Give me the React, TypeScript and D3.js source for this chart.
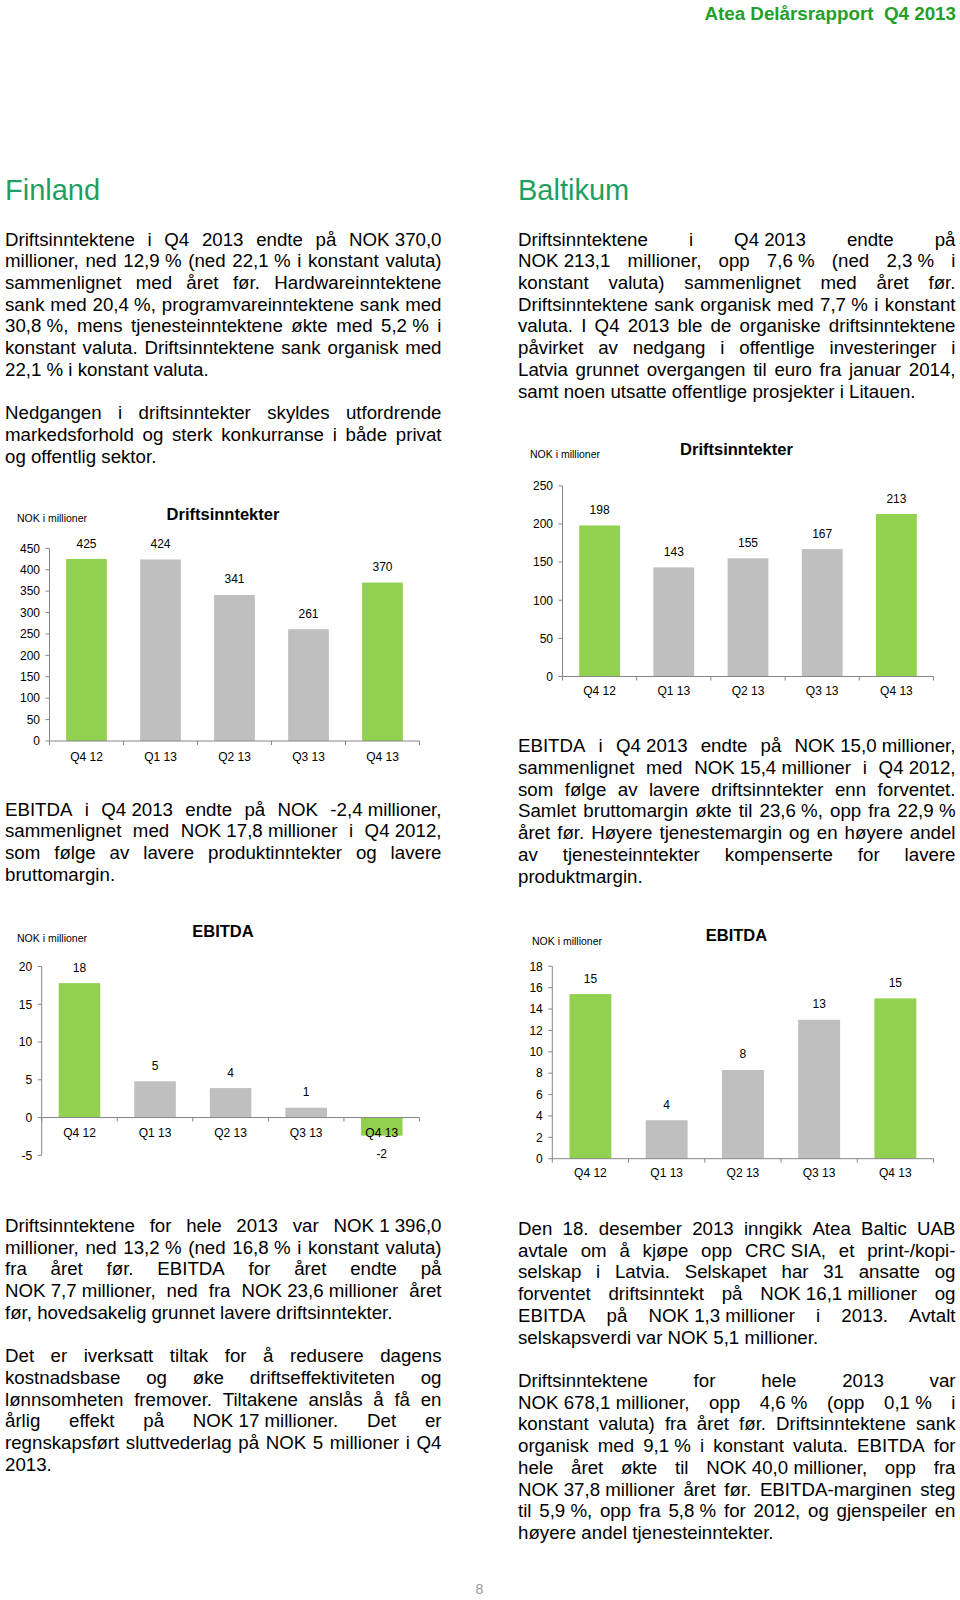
import React from "react";
import * as d3 from "d3";

// ---------- data ----------
const categories = ["Q4 12", "Q1 13", "Q2 13", "Q3 13", "Q4 13"];
const highlighted = ["Q4 12", "Q4 13"];
const finlandRevenue = [425, 424, 341, 261, 370];
const baltikumRevenue = [198, 143, 155, 167, 213];
const finlandEbitda = [17.8, 4.8, 3.9, 1.3, -2.4];
const baltikumEbitda = [15.4, 3.6, 8.3, 13.0, 15.0];
const finlandRevenueTicks = [0, 50, 100, 150, 200, 250, 300, 350, 400, 450];
const baltikumRevenueTicks = [0, 50, 100, 150, 200, 250];
const finlandEbitdaTicks = [-5, 0, 5, 10, 15, 20];
const baltikumEbitdaTicks = [0, 2, 4, 6, 8, 10, 12, 14, 16, 18];

const NB = "\u00a0";

const finlandIntro = [
  [
    "Driftsinntektene i Q4 2013 endte på NOK" + NB + "370,0",
    "millioner, ned 12,9" + NB + "% (ned 22,1" + NB + "% i konstant valuta)",
    "sammenlignet med året før. Hardwareinntektene",
    "sank med 20,4" + NB + "%, programvareinntektene sank med",
    "30,8" + NB + "%, mens tjenesteinntektene økte med 5,2" + NB + "% i",
    "konstant valuta. Driftsinntektene sank organisk med",
    "22,1" + NB + "% i konstant valuta.",
  ],
  [
    "Nedgangen i driftsinntekter skyldes utfordrende",
    "markedsforhold og sterk konkurranse i både privat",
    "og offentlig sektor.",
  ],
];

const baltikumIntro = [
  [
    "Driftsinntektene i Q4" + NB + "2013 endte på",
    "NOK" + NB + "213,1 millioner, opp 7,6" + NB + "% (ned 2,3" + NB + "% i",
    "konstant valuta) sammenlignet med året før.",
    "Driftsinntektene sank organisk med 7,7" + NB + "% i konstant",
    "valuta. I Q4 2013 ble de organiske driftsinntektene",
    "påvirket av nedgang i offentlige investeringer i",
    "Latvia grunnet overgangen til euro fra januar 2014,",
    "samt noen utsatte offentlige prosjekter i Litauen.",
  ],
];

const finlandEbitdaText = [
  [
    "EBITDA i Q4" + NB + "2013 endte på NOK -2,4" + NB + "millioner,",
    "sammenlignet med NOK" + NB + "17,8" + NB + "millioner i Q4" + NB + "2012,",
    "som følge av lavere produktinntekter og lavere",
    "bruttomargin.",
  ],
];

const baltikumEbitdaText = [
  [
    "EBITDA i Q4" + NB + "2013 endte på NOK" + NB + "15,0" + NB + "millioner,",
    "sammenlignet med NOK" + NB + "15,4" + NB + "millioner i Q4" + NB + "2012,",
    "som følge av lavere driftsinntekter enn forventet.",
    "Samlet bruttomargin økte til 23,6" + NB + "%, opp fra 22,9" + NB + "%",
    "året før. Høyere tjenestemargin og en høyere andel",
    "av tjenesteinntekter kompenserte for lavere",
    "produktmargin.",
  ],
];

const finlandBottom = [
  [
    "Driftsinntektene for hele 2013 var NOK" + NB + "1" + NB + "396,0",
    "millioner, ned 13,2" + NB + "% (ned 16,8" + NB + "% i konstant valuta)",
    "fra året før. EBITDA for året endte på",
    "NOK" + NB + "7,7" + NB + "millioner, ned fra NOK" + NB + "23,6" + NB + "millioner året",
    "før, hovedsakelig grunnet lavere driftsinntekter.",
  ],
  [
    "Det er iverksatt tiltak for å redusere dagens",
    "kostnadsbase og øke driftseffektiviteten og",
    "lønnsomheten fremover. Tiltakene anslås å få en",
    "årlig effekt på NOK" + NB + "17" + NB + "millioner. Det er",
    "regnskapsført sluttvederlag på NOK 5 millioner i Q4",
    "2013.",
  ],
];

const baltikumBottom = [
  [
    "Den 18. desember 2013 inngikk Atea Baltic UAB",
    "avtale om å kjøpe opp CRC" + NB + "SIA, et print-/kopi-",
    "selskap i Latvia. Selskapet har 31 ansatte og",
    "forventet driftsinntekt på NOK" + NB + "16,1" + NB + "millioner og",
    "EBITDA på NOK" + NB + "1,3" + NB + "millioner i 2013. Avtalt",
    "selskapsverdi var NOK 5,1 millioner.",
  ],
  [
    "Driftsinntektene for hele 2013 var",
    "NOK" + NB + "678,1" + NB + "millioner, opp 4,6" + NB + "% (opp 0,1" + NB + "% i",
    "konstant valuta) fra året før. Driftsinntektene sank",
    "organisk med 9,1" + NB + "% i konstant valuta. EBITDA for",
    "hele året økte til NOK" + NB + "40,0" + NB + "millioner, opp fra",
    "NOK" + NB + "37,8" + NB + "millioner året før. EBITDA-marginen steg",
    "til 5,9" + NB + "%, opp fra 5,8" + NB + "% for 2012, og gjenspeiler en",
    "høyere andel tjenesteinntekter.",
  ],
];

// ---------- styling ----------
const FONT = '"Liberation Sans", Arial, Helvetica, sans-serif';
const BODY_SIZE = 18.7;
const LINE_H = 21.72;
const GREEN_BAR = "#92d050";
const GRAY_BAR = "#bfbfbf";
const AXIS = "#868686";

const locale = d3.formatLocale({
  decimal: ",",
  thousands: " ",
  grouping: [3],
  currency: ["", ""],
  minus: "-",
});
const fmt0 = locale.format(".0f");

let ctx: CanvasRenderingContext2D | null = null;
function measure(text: string, size: number, weight = "normal") {
  if (!ctx) ctx = document.createElement("canvas").getContext("2d");
  ctx!.font = `${weight} ${size}px "Liberation Sans"`;
  return ctx!.measureText(text).width;
}

function Paragraphs({
  paras,
  x,
  y,
  width,
}: {
  paras: string[][];
  x: number;
  y: number;
  width: number;
}) {
  const out: React.ReactNode[] = [];
  let line = 0;
  paras.forEach((p, pi) => {
    p.forEach((txt, li) => {
      const by = y + line * LINE_H;
      const justify = li < p.length - 1;
      if (!justify) {
        out.push(
          <text key={`${pi}-${li}`} x={x} y={by}>
            {txt}
          </text>
        );
      } else {
        const words = txt.split(" ");
        const widths = words.map((w) => measure(w, BODY_SIZE));
        const total = widths.reduce((a, b) => a + b, 0);
        const gap = words.length > 1 ? (width - total) / (words.length - 1) : 0;
        let cx = x;
        const spans = words.map((w, i) => {
          const el = (
            <tspan key={i} x={cx}>
              {w}
            </tspan>
          );
          cx += widths[i] + gap;
          return el;
        });
        out.push(
          <text key={`${pi}-${li}`} y={by}>
            {spans}
          </text>
        );
      }
      line++;
    });
    line++;
  });
  return (
    <g fontFamily={FONT} fontSize={BODY_SIZE} fill="#000">
      {out}
    </g>
  );
}

type ChartProps = {
  values: number[];
  domain: [number, number];
  ticks: number[];
  x0: number;
  x1: number;
  yTop: number;
  yBottom: number;
  title: string;
  titleX: number;
  titleY: number;
  unitX: number;
  unitY: number;
  catY: number;
};

function BarChart(props: ChartProps) {
  const { values, domain, ticks, x0, x1, yTop, yBottom, title, titleX, titleY, unitX, unitY, catY } = props;
  const y = d3.scaleLinear().domain(domain).range([yBottom, yTop]);
  const x = d3
    .scaleBand<string>()
    .domain(categories)
    .range([x0, x1])
    .paddingInner(0.45)
    .paddingOuter(0.225);
  const zero = y(0);
  const half = (x.step() - x.bandwidth()) / 2;
  const bounds = categories.map((c) => (x(c) as number) - half).concat([x1]);
  return (
    <g fontFamily={FONT}>
      <text x={unitX} y={unitY} fontSize={10.5} fill="#000">
        NOK i millioner
      </text>
      <text x={titleX} y={titleY} fontSize={16.5} fontWeight="bold" textAnchor="middle" fill="#000">
        {title}
      </text>
      {values.map((v, i) => {
        const c = categories[i];
        const bx = x(c) as number;
        const top = Math.min(y(v), zero);
        const h = Math.abs(y(v) - zero);
        return (
          <rect
            key={c}
            x={bx}
            y={top}
            width={x.bandwidth()}
            height={h}
            fill={highlighted.includes(c) ? GREEN_BAR : GRAY_BAR}
          />
        );
      })}
      {/* y axis */}
      <line x1={x0} x2={x0} y1={y(domain[1])} y2={y(domain[0])} stroke={AXIS} strokeWidth={1} />
      {ticks.map((t) => (
        <g key={t}>
          <line x1={x0 - 4} x2={x0} y1={y(t)} y2={y(t)} stroke={AXIS} strokeWidth={1} />
          <text x={x0 - 9.5} y={y(t) + 4.3} fontSize={12} textAnchor="end" fill="#000">
            {fmt0(t)}
          </text>
        </g>
      ))}
      {/* x axis */}
      <line x1={x0} x2={x1} y1={zero} y2={zero} stroke={AXIS} strokeWidth={1} />
      {bounds.map((b, i) => (
        <line key={i} x1={b} x2={b} y1={zero} y2={zero + 4} stroke={AXIS} strokeWidth={1} />
      ))}
      {categories.map((c) => (
        <text
          key={c}
          x={(x(c) as number) + x.bandwidth() / 2}
          y={catY}
          fontSize={12}
          textAnchor="middle"
          fill="#000"
        >
          {c}
        </text>
      ))}
      {values.map((v, i) => {
        const c = categories[i];
        const cx = (x(c) as number) + x.bandwidth() / 2;
        const ly = v >= 0 ? y(v) - 11.5 : y(v) + 22.5;
        return (
          <text key={c} x={cx} y={ly} fontSize={12} textAnchor="middle" fill="#000">
            {fmt0(v)}
          </text>
        );
      })}
    </g>
  );
}

export default function App() {
  return (
    <svg
      width={960}
      height={1600}
      viewBox="0 0 960 1600"
      style={{ position: "absolute", left: 0, top: 0, background: "#fff" }}
    >
      <rect x={0} y={0} width={960} height={1600} fill="#fff" />
      <text
        x={956}
        y={20}
        textAnchor="end"
        fontFamily={FONT}
        fontWeight="bold"
        fontSize={18.8}
        fill="#22a02a"
        style={{ whiteSpace: "pre" }}
      >
        {"Atea Delårsrapport  Q4 2013"}
      </text>

      <text x={5} y={200} fontFamily={FONT} fontSize={29} fill="#1e9f5f">
        Finland
      </text>
      <text x={518} y={200} fontFamily={FONT} fontSize={29} fill="#1e9f5f">
        Baltikum
      </text>

      <Paragraphs paras={finlandIntro} x={5} y={245.5} width={436.5} />
      <Paragraphs paras={baltikumIntro} x={518} y={245.5} width={437.5} />

      <BarChart
        values={finlandRevenue}
        domain={[0, 450]}
        ticks={finlandRevenueTicks}
        x0={49.5}
        x1={419.5}
        yTop={548.3}
        yBottom={741}
        title="Driftsinntekter"
        titleX={223}
        titleY={520}
        unitX={17}
        unitY={522}
        catY={760.5}
      />
      <BarChart
        values={baltikumRevenue}
        domain={[0, 250]}
        ticks={baltikumRevenueTicks}
        x0={562.5}
        x1={933.5}
        yTop={485.8}
        yBottom={676.5}
        title="Driftsinntekter"
        titleX={736.5}
        titleY={455}
        unitX={530}
        unitY={458}
        catY={695}
      />

      <Paragraphs paras={finlandEbitdaText} x={5} y={815.5} width={436.5} />
      <Paragraphs paras={baltikumEbitdaText} x={518} y={752.3} width={437.5} />

      <BarChart
        values={finlandEbitda}
        domain={[-5, 20]}
        ticks={finlandEbitdaTicks}
        x0={41.7}
        x1={419.5}
        yTop={966.5}
        yBottom={1155.3}
        title="EBITDA"
        titleX={223}
        titleY={937.3}
        unitX={17}
        unitY={941.5}
        catY={1136.7}
      />
      <BarChart
        values={baltikumEbitda}
        domain={[0, 18]}
        ticks={baltikumEbitdaTicks}
        x0={552.3}
        x1={933.5}
        yTop={966.3}
        yBottom={1158.7}
        title="EBITDA"
        titleX={736.5}
        titleY={940.5}
        unitX={532}
        unitY={944.5}
        catY={1177}
      />

      <Paragraphs paras={finlandBottom} x={5} y={1232} width={436.5} />
      <Paragraphs paras={baltikumBottom} x={518} y={1235} width={437.5} />

      <text x={479.5} y={1594} textAnchor="middle" fontFamily={FONT} fontSize={14} fill="#999">
        8
      </text>
    </svg>
  );
}
